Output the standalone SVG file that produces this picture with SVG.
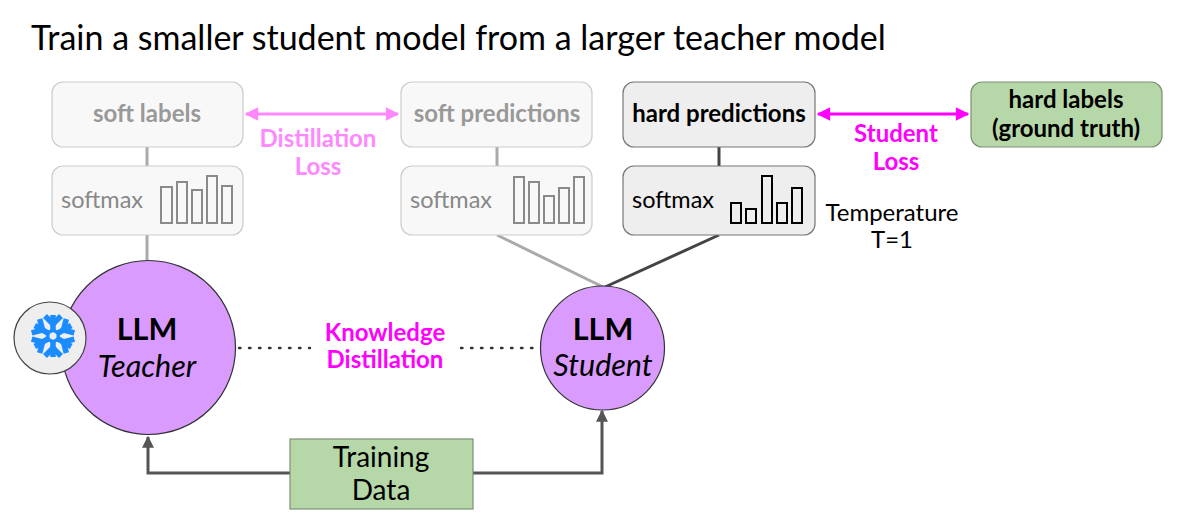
<svg xmlns="http://www.w3.org/2000/svg" width="1200" height="521" viewBox="0 0 1200 521">
<style>
text{font-family:Lato,"Noto Sans","DejaVu Sans",sans-serif}
.soft{fill:#f8f8f8;stroke:#cccccc;stroke-width:1.2}
.hard{fill:#eeeeee;stroke:#777777;stroke-width:1.2}
.green{fill:#b6d7a8;stroke:#7f8f78;stroke-width:1.2}
.lbl{font-size:24px;font-weight:bold;text-anchor:middle}
.sm{font-size:23.5px}
.gt{fill:#999999}
.sbar{fill:none;stroke:#8a8a8a;stroke-width:2}
.hbar{fill:none;stroke:#000000;stroke-width:2}
.llm{fill:#d99bfd;stroke:#333333;stroke-width:1.2}
.mag{fill:#ff00ff;font-size:24px;font-weight:bold;text-anchor:middle}
.pink{fill:#ff88ff;font-size:24px;font-weight:bold;text-anchor:middle}
.big{font-size:30.5px;text-anchor:middle;fill:#000}
</style>
<defs>
<marker id="ap" viewBox="0 0 10 10" refX="9" refY="5" markerWidth="5" markerHeight="4.5" orient="auto-start-reverse" markerUnits="strokeWidth"><path d="M0,0L10,5L0,10z" fill="#ff88ff"/></marker>
<marker id="am" viewBox="0 0 10 10" refX="9" refY="5" markerWidth="5" markerHeight="4.5" orient="auto-start-reverse" markerUnits="strokeWidth"><path d="M0,0L10,5L0,10z" fill="#ff00ff"/></marker>
<marker id="ag" viewBox="0 0 10 10" refX="9" refY="5" markerWidth="4.5" markerHeight="4" orient="auto" markerUnits="strokeWidth"><path d="M0,0L10,5L0,10z" fill="#555555"/></marker>
<g id="arm"><line x1="0" y1="-4" x2="0" y2="-21"/><polyline points="-8,-20 0,-12 8,-20" fill="none"/></g>
</defs>

<text x="31" y="50" font-size="34" fill="#000">Train a smaller student model from a larger teacher model</text>

<g id="connectors" fill="none">
<line x1="147" y1="147" x2="147" y2="166" stroke="#aaaaaa" stroke-width="3"/>
<line x1="147" y1="235" x2="147" y2="261" stroke="#aaaaaa" stroke-width="3"/>
<line x1="497" y1="147" x2="497" y2="166" stroke="#aaaaaa" stroke-width="3"/>
<line x1="497" y1="235" x2="603" y2="287" stroke="#aaaaaa" stroke-width="3"/>
<line x1="719" y1="147" x2="719" y2="166" stroke="#444444" stroke-width="3"/>
<line x1="719" y1="235" x2="605" y2="287" stroke="#444444" stroke-width="3"/>
<line x1="246" y1="114" x2="398" y2="114" stroke="#ff88ff" stroke-width="3" marker-start="url(#ap)" marker-end="url(#ap)"/>
<line x1="818" y1="114" x2="968" y2="114" stroke="#ff00ff" stroke-width="3" marker-start="url(#am)" marker-end="url(#am)"/>
<line x1="239" y1="348" x2="310" y2="348" stroke="#333333" stroke-width="2.4" stroke-dasharray="1.5 8.5" stroke-linecap="round"/>
<line x1="461" y1="348" x2="534" y2="348" stroke="#333333" stroke-width="2.4" stroke-dasharray="1.5 8.5" stroke-linecap="round"/>
<polyline points="290,473 148,473 148,437" stroke="#555555" stroke-width="3" marker-end="url(#ag)"/>
<polyline points="473,473 602,473 602,411" stroke="#555555" stroke-width="3" marker-end="url(#ag)"/>
</g>

<g id="soft-labels">
<rect class="soft" x="52" y="82" width="191" height="65" rx="11"/>
<text class="lbl gt" x="147" y="122">soft labels</text>
</g>
<g id="teacher-softmax">
<rect class="soft" x="52" y="166" width="191" height="69" rx="11"/>
<text class="sm" x="61" y="208" fill="#888888">softmax</text>
<rect class="sbar" x="161" y="187" width="11" height="36"/>
<rect class="sbar" x="177" y="182" width="10" height="41"/>
<rect class="sbar" x="192" y="190" width="10" height="33"/>
<rect class="sbar" x="207" y="176" width="10" height="47"/>
<rect class="sbar" x="222" y="186" width="10" height="37"/>
</g>
<g id="distillation-loss">
<text class="pink" x="318" y="147">Distillation</text>
<text class="pink" x="318" y="175">Loss</text>
</g>
<g id="soft-predictions">
<rect class="soft" x="401" y="82" width="191" height="65" rx="11"/>
<text class="lbl gt" x="497" y="122">soft predictions</text>
</g>
<g id="student-soft-softmax">
<rect class="soft" x="401" y="166" width="191" height="69" rx="11"/>
<text class="sm" x="410" y="208" fill="#888888">softmax</text>
<rect class="sbar" x="514" y="177" width="10" height="46"/>
<rect class="sbar" x="529" y="182" width="10" height="41"/>
<rect class="sbar" x="544" y="196" width="10" height="27"/>
<rect class="sbar" x="559" y="188" width="10" height="35"/>
<rect class="sbar" x="574" y="177" width="10" height="46"/>
</g>
<g id="hard-predictions">
<rect class="hard" x="623" y="82" width="192" height="65" rx="11"/>
<text class="lbl" x="719" y="122" fill="#000">hard predictions</text>
</g>
<g id="student-hard-softmax">
<rect class="hard" x="623" y="166" width="192" height="69" rx="11"/>
<text class="sm" x="632" y="208" fill="#000">softmax</text>
<rect class="hbar" x="731" y="203" width="10" height="20"/>
<rect class="hbar" x="746" y="209" width="10" height="14"/>
<rect class="hbar" x="762" y="176" width="10" height="47"/>
<rect class="hbar" x="777" y="203" width="10" height="20"/>
<rect class="hbar" x="792" y="188" width="10" height="35"/>
</g>
<g id="student-loss">
<text class="mag" x="896" y="142">Student</text>
<text class="mag" x="896" y="170">Loss</text>
</g>
<g id="hard-labels">
<rect class="green" x="971" y="82" width="191" height="65" rx="11" stroke="#777777"/>
<text class="lbl" x="1066" y="108" fill="#000">hard labels</text>
<text class="lbl" x="1066" y="137" fill="#000">(ground truth)</text>
</g>
<g id="temperature">
<text x="892" y="221" font-size="24" text-anchor="middle" fill="#000">Temperature</text>
<text x="892" y="248" font-size="24" text-anchor="middle" fill="#000">T=1</text>
</g>
<g id="teacher">
<circle class="llm" cx="148.5" cy="347.5" r="87"/>
<text class="big" x="147" y="340" font-weight="bold">LLM</text>
<text class="big" x="147" y="377" font-style="italic">Teacher</text>
</g>
<g id="frozen">
<circle cx="50" cy="338" r="36" fill="#eeeeee" stroke="#444444" stroke-width="1.2"/>
<g stroke="#1a8cff" stroke-width="5.5" stroke-linecap="butt" transform="translate(53,336)">
<use href="#arm"/>
<use href="#arm" transform="rotate(60)"/>
<use href="#arm" transform="rotate(120)"/>
<use href="#arm" transform="rotate(180)"/>
<use href="#arm" transform="rotate(240)"/>
<use href="#arm" transform="rotate(300)"/>
<polygon points="0,-6 5.2,-3 5.2,3 0,6 -5.2,3 -5.2,-3" fill="none" stroke-width="3.5"/>
</g>
</g>
<g id="knowledge-distillation">
<text class="mag" x="385" y="341">Knowledge</text>
<text class="mag" x="385" y="368">Distillation</text>
</g>
<g id="student">
<circle class="llm" cx="602.5" cy="348" r="62"/>
<text class="big" x="603" y="340" font-weight="bold">LLM</text>
<text class="big" x="603" y="376" font-style="italic">Student</text>
</g>
<g id="training-data">
<rect class="green" x="290" y="439" width="183" height="70"/>
<text x="381" y="467" font-size="28" text-anchor="middle" fill="#000">Training</text>
<text x="381" y="500" font-size="28" text-anchor="middle" fill="#000">Data</text>
</g>
</svg>
